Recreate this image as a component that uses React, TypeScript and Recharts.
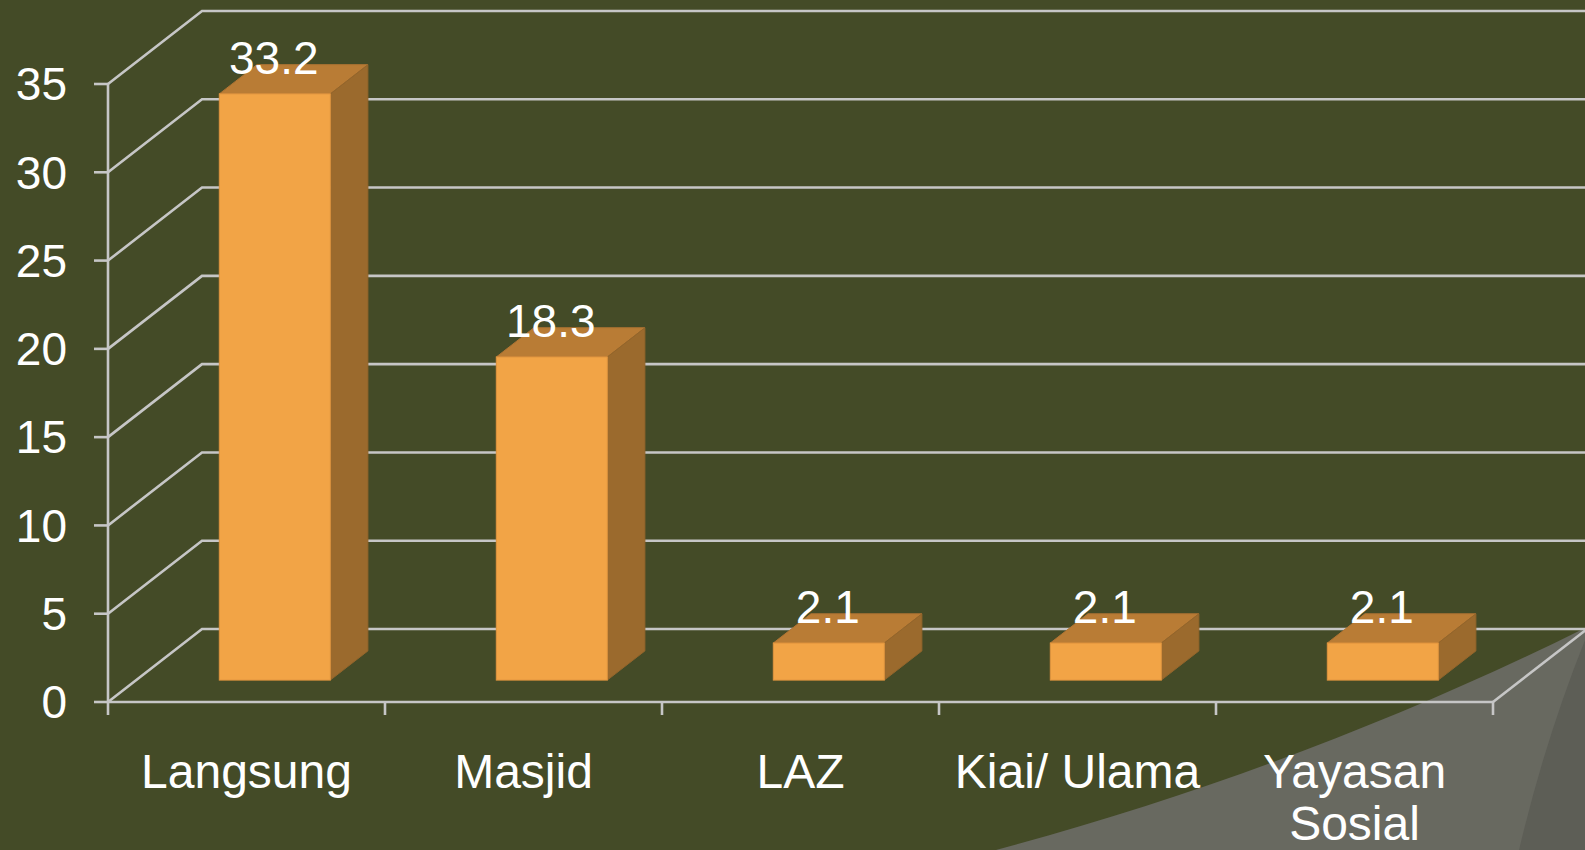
import React from 'react';
import { BarChart, Bar, XAxis, YAxis, CartesianGrid, LabelList } from 'recharts';

// chart values
const categories = ['Langsung', 'Masjid', 'LAZ', 'Kiai/ Ulama', 'Yayasan Sosial'];
const values = [33.2, 18.3, 2.1, 2.1, 2.1];
const yTicks = [0, 5, 10, 15, 20, 25, 30, 35];

const data = categories.map((name, i) => ({ name, value: values[i] }));

const W = 1585;
const H = 850;
const BG = '#444b27';
const GRID = '#c6c6c6';
const LINE_W = 2.6;
const FRONT = '#f2a446';
const TOP = '#b97c35';
const SIDE = '#9b6a2d';
const FONT = '"Liberation Sans", Arial, Helvetica, sans-serif';

// depth of the 3D box (floor/back wall offset)
const DEPTH_X = 94;
const DEPTH_Y = -73;
// bars sit between 30% and 70% of the depth
const BAR_START = 0.3;
const BAR_DEPTH = 0.4;

const gridLine = (props: any) => {
  const { x1, y1, x2, index } = props;
  const d = `M${x1},${y1} L${x1 + DEPTH_X},${y1 + DEPTH_Y} L${x2 + DEPTH_X},${y1 + DEPTH_Y}`;
  return <path key={`grid-${index}`} d={d} fill="none" stroke={GRID} strokeWidth={LINE_W} />;
};

const Bar3D = (props: any) => {
  const { x, y, width, height } = props;
  if (height <= 0) return null;
  const fx = x + BAR_START * DEPTH_X;
  const fy = y + BAR_START * DEPTH_Y;
  const dx = BAR_DEPTH * DEPTH_X;
  const dy = BAR_DEPTH * DEPTH_Y;
  const w = width;
  const h = height;
  return (
    <g>
      <polygon
        points={`${fx},${fy} ${fx + dx},${fy + dy} ${fx + w + dx},${fy + dy} ${fx + w},${fy}`}
        fill={TOP}
        stroke="#b07433"
        strokeWidth={1}
      />
      <polygon
        points={`${fx + w},${fy} ${fx + w + dx},${fy + dy} ${fx + w + dx},${fy + h + dy} ${fx + w},${fy + h}`}
        fill={SIDE}
        stroke="#93652b"
        strokeWidth={1}
      />
      <rect x={fx} y={fy} width={w} height={h} fill={FRONT} stroke="#e0953f" strokeWidth={1} />
    </g>
  );
};

const BarLabel = (props: any) => {
  const vb = props.viewBox || {};
  const x = props.x ?? vb.x;
  const y = props.y ?? vb.y;
  const width = props.width ?? vb.width;
  const cx = x + width / 2 + BAR_START * DEPTH_X - 1;
  const top = y + BAR_START * DEPTH_Y;
  return (
    <text x={cx} y={top - 20} textAnchor="middle" fill="#ffffff" fontSize={46} fontFamily={FONT}>
      {props.value}
    </text>
  );
};

const XTick = (props: any) => {
  const { x, y, payload, index } = props;
  const off = payload && payload.offset ? payload.offset : (W - 108 - 92) / categories.length / 2;
  const label = String(payload.value);
  const lines = label.length > 12 ? label.split(' ') : [label];
  const isLast = index === categories.length - 1;
  return (
    <g>
      <line x1={x - off} y1={y} x2={x - off} y2={y + 13} stroke={GRID} strokeWidth={LINE_W} />
      {isLast && (
        <g>
          <line x1={x + off} y1={y} x2={x + off} y2={y + 13} stroke={GRID} strokeWidth={LINE_W} />
          <line x1={x + off} y1={y} x2={x + off + DEPTH_X} y2={y + DEPTH_Y} stroke={GRID} strokeWidth={LINE_W} />
        </g>
      )}
      <text x={x} y={y + 86} textAnchor="middle" fill="#ffffff" fontSize={48} fontFamily={FONT}>
        {lines.map((l, i) => (
          <tspan key={i} x={x} dy={i === 0 ? 0 : 52}>
            {l}
          </tspan>
        ))}
      </text>
    </g>
  );
};

export default function App() {
  return (
    <div
      style={{
        position: 'absolute',
        left: 0,
        top: 0,
        width: W,
        height: H,
        background: BG,
        overflow: 'hidden',
        fontFamily: FONT,
      }}
    >
      {/* slide decoration in the bottom-right corner */}
      <svg width={W} height={H} style={{ position: 'absolute', left: 0, top: 0 }}>
        <path d="M996,850 C1200,795 1400,720 1585,628 L1585,850 Z" fill="#686960" />
        <path d="M1519,850 Q1545,740 1585,640 L1585,850 Z" fill="#5d5e56" />
      </svg>

      <div style={{ position: 'absolute', left: 0, top: 0 }}>
        <BarChart
          width={W}
          height={H}
          data={data}
          margin={{ top: 84, right: 92, bottom: 88, left: 48 }}
          barCategoryGap="30%"
        >
          <CartesianGrid vertical={false} horizontal={gridLine} />
          <XAxis
            dataKey="name"
            height={60}
            tickSize={0}
            tickMargin={0}
            interval={0}
            axisLine={{ stroke: GRID, strokeWidth: LINE_W }}
            tickLine={false}
            tick={XTick}
          />
          <YAxis
            type="number"
            domain={[0, 35]}
            ticks={yTicks}
            interval={0}
            width={60}
            tickSize={14}
            tickMargin={27}
            axisLine={{ stroke: GRID, strokeWidth: LINE_W }}
            tickLine={{ stroke: GRID, strokeWidth: LINE_W }}
            tick={{ fill: '#ffffff', fontSize: 46, fontFamily: FONT }}
          />
          <Bar dataKey="value" shape={Bar3D} isAnimationActive={false}>
            <LabelList dataKey="value" content={BarLabel} />
          </Bar>
        </BarChart>
      </div>
    </div>
  );
}
